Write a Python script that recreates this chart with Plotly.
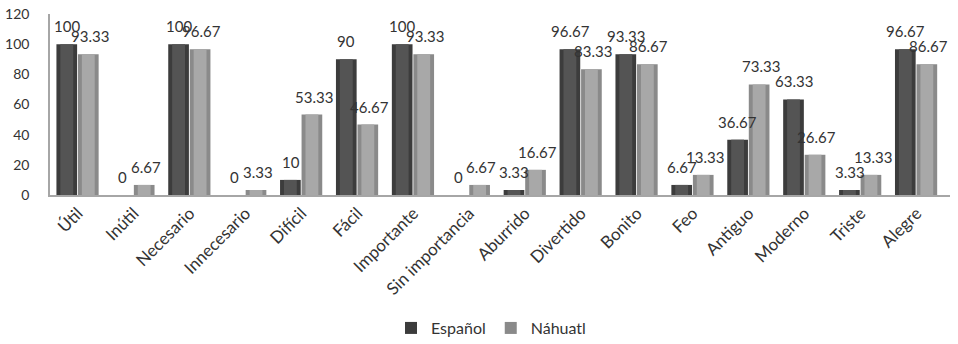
import plotly.graph_objects as go

categorias = ["Útil", "Inútil", "Necesario", "Innecesario", "Difícil", "Fácil",
              "Importante", "Sin importancia", "Aburrido", "Divertido", "Bonito",
              "Feo", "Antiguo", "Moderno", "Triste", "Alegre"]
espanol = [100, 0, 100, 0, 10, 90, 100, 0, 3.33, 96.67, 93.33, 6.67, 36.67, 63.33, 3.33, 96.67]
nahuatl = [93.33, 6.67, 96.67, 3.33, 53.33, 46.67, 93.33, 6.67, 16.67, 83.33, 86.67, 13.33, 73.33, 26.67, 13.33, 86.67]

FONT = "Lato"
TXT = "#333333"
ANCHO = 0.37  # bar width in category units

# (name, values, offset, edge colour, face colour, label x-shift in px)
series = [
    ("Español", espanol, -0.385, "#3c3c3c", "#545454", -11),
    ("Náhuatl", nahuatl, 0.0, "#8a8a8a", "#a8a8a8", 12),
]

fig = go.Figure()
for nombre, valores, off, borde, cara, _ in series:
    # outer bar (darker edges) – carries the legend entry
    fig.add_trace(go.Bar(
        name=nombre, x=categorias, y=valores, offset=off, width=ANCHO,
        marker=dict(color=borde, line=dict(width=0)), legendgroup=nombre,
    ))
    # inner face for a rounded, shaded look
    fig.add_trace(go.Bar(
        name=nombre, x=categorias, y=valores, offset=off + 0.07, width=ANCHO - 0.14,
        marker=dict(color=cara, line=dict(width=0)), legendgroup=nombre,
        showlegend=False, hoverinfo="skip",
    ))

anotaciones = []
for nombre, valores, off, _, _, dx in series:
    for cat, v in zip(categorias, valores):
        anotaciones.append(dict(
            x=cat, y=v, xref="x", yref="y", text=f"{v:g}", showarrow=False,
            xshift=dx, yshift=7, yanchor="bottom",
            font=dict(family=FONT, size=15, color=TXT),
        ))

fig.update_layout(
    width=958, height=344,
    margin=dict(l=50, r=8, t=14, b=149, autoexpand=False),
    paper_bgcolor="white", plot_bgcolor="white",
    barmode="overlay",
    font=dict(family=FONT, size=14, color=TXT),
    annotations=anotaciones,
    legend=dict(orientation="h", x=0.49, xanchor="center", y=-0.735, yanchor="middle",
                font=dict(family=FONT, size=16, color=TXT), traceorder="normal"),
    showlegend=True,
)
fig.update_xaxes(
    tickangle=-45, showline=True, linecolor="#a6a6a6", linewidth=1.5,
    tickfont=dict(family=FONT, size=17, color=TXT),
    showgrid=False, ticks="", automargin=False,
)
fig.update_yaxes(
    range=[0, 120], dtick=20, showline=True, linecolor="#a6a6a6", linewidth=1.5,
    showgrid=False, zeroline=False, ticks="", ticklabelstandoff=16,
    tickfont=dict(family=FONT, size=14, color=TXT), automargin=False,
)

fig.write_html("out.html")
